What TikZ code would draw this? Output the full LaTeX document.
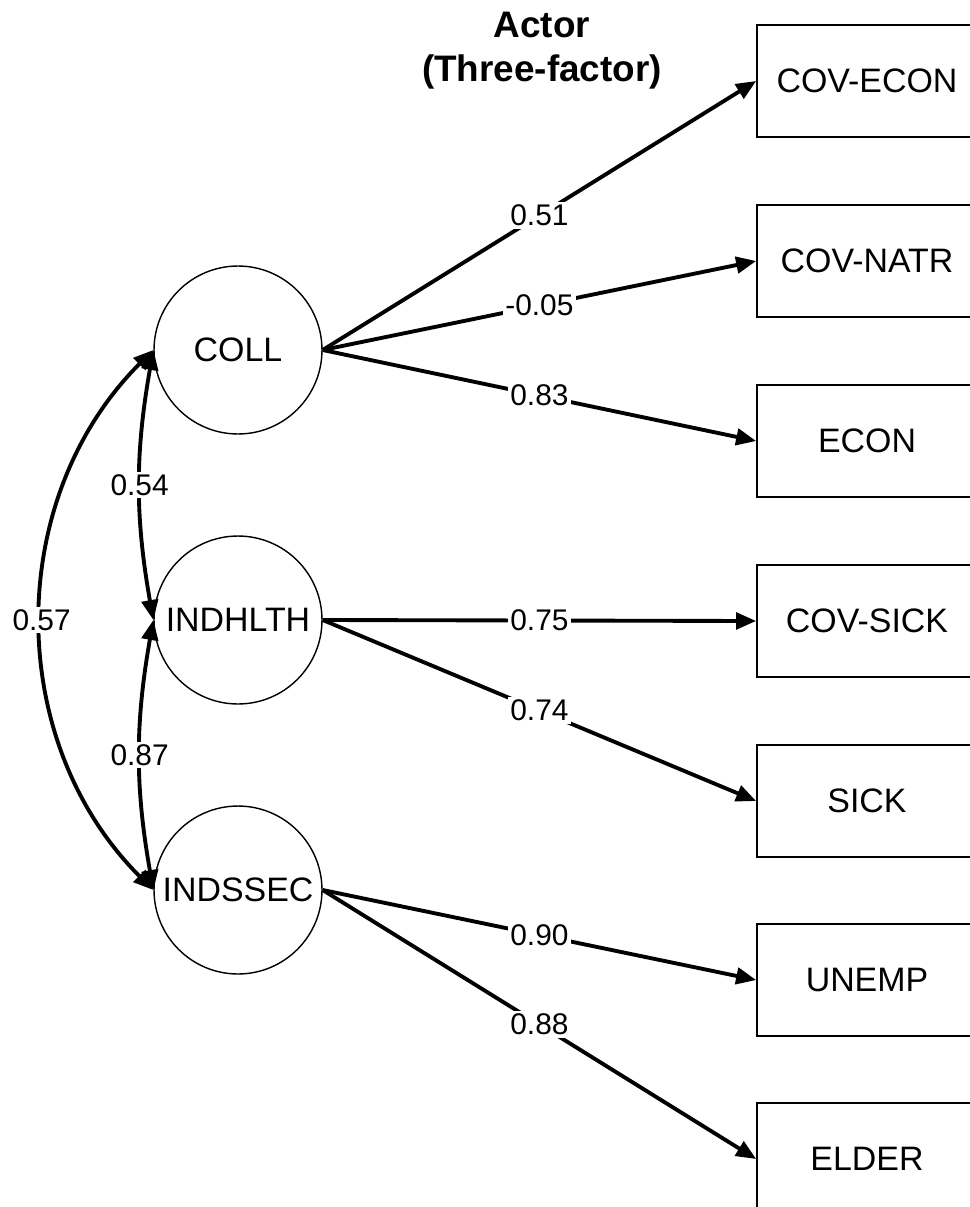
\documentclass[tikz,border=0pt]{standalone}
\usepackage{fontspec}
\setmainfont{Liberation Sans}
\usetikzlibrary{arrows.meta}

\tikzset{
  latent/.style={circle,draw,line width=0.8pt,minimum size=3.36cm,inner sep=0pt,
    font=\fontsize{19.3}{23}\selectfont},
  observed/.style={rectangle,draw,line width=1pt,minimum width=4.4cm,
    minimum height=2.24cm,inner sep=0pt,font=\fontsize{19.3}{23}\selectfont},
  load/.style={-{Triangle[length=0.4cm,width=0.33cm]},line width=2.2pt},
  cov/.style={{Triangle[length=0.4cm,width=0.33cm]}-{Triangle[length=0.4cm,width=0.33cm]},
    line width=2.2pt},
  coef/.style={fill=white,inner sep=1.5pt,font=\fontsize{17}{20}\selectfont},
}

\begin{document}
\begin{tikzpicture}[x=0.02cm,y=-0.02cm]
  \useasboundingbox (0,0) rectangle (970,1207);
  \clip (0,0) rectangle (970,1207);

  \node[font=\bfseries\fontsize{21}{25}\selectfont,align=center] (title) at (542,51)
    {Actor\\(Three-factor)};

  % latent factors
  \node[latent] (coll) at (238,350) {COLL};
  \node[latent] (indhlth) at (238,620) {INDHLTH};
  \node[latent] (indssec) at (238,890) {INDSSEC};

  % indicators
  \foreach \name/\txt/\y in {covecon/COV-ECON/81,covnatr/COV-NATR/261,econ/ECON/441,
      covsick/COV-SICK/621,sick/SICK/801,unemp/UNEMP/980,elder/ELDER/1159}
    \node[observed] (\name) at (867,\y) {\txt};

  % loadings
  \draw[load] (coll.east) -- node[coef] {0.51} (covecon.west);
  \draw[load] (coll.east) -- node[coef] {-0.05} (covnatr.west);
  \draw[load] (coll.east) -- node[coef] {0.83} (econ.west);
  \draw[load] (indhlth.east) -- node[coef] {0.75} (covsick.west);
  \draw[load] (indhlth.east) -- node[coef] {0.74} (sick.west);
  \draw[load] (indssec.east) -- node[coef] {0.90} (unemp.west);
  \draw[load] (indssec.east) -- node[coef] {0.88} (elder.west);

  % factor covariances
  \draw[cov] (coll.west) to[bend right=10] node[coef] {0.54} (indhlth.west);
  \draw[cov] (coll.west) to[bend right=45] node[coef] {0.57} (indssec.west);
  \draw[cov] (indhlth.west) to[bend right=10] node[coef] {0.87} (indssec.west);
\end{tikzpicture}
\end{document}
